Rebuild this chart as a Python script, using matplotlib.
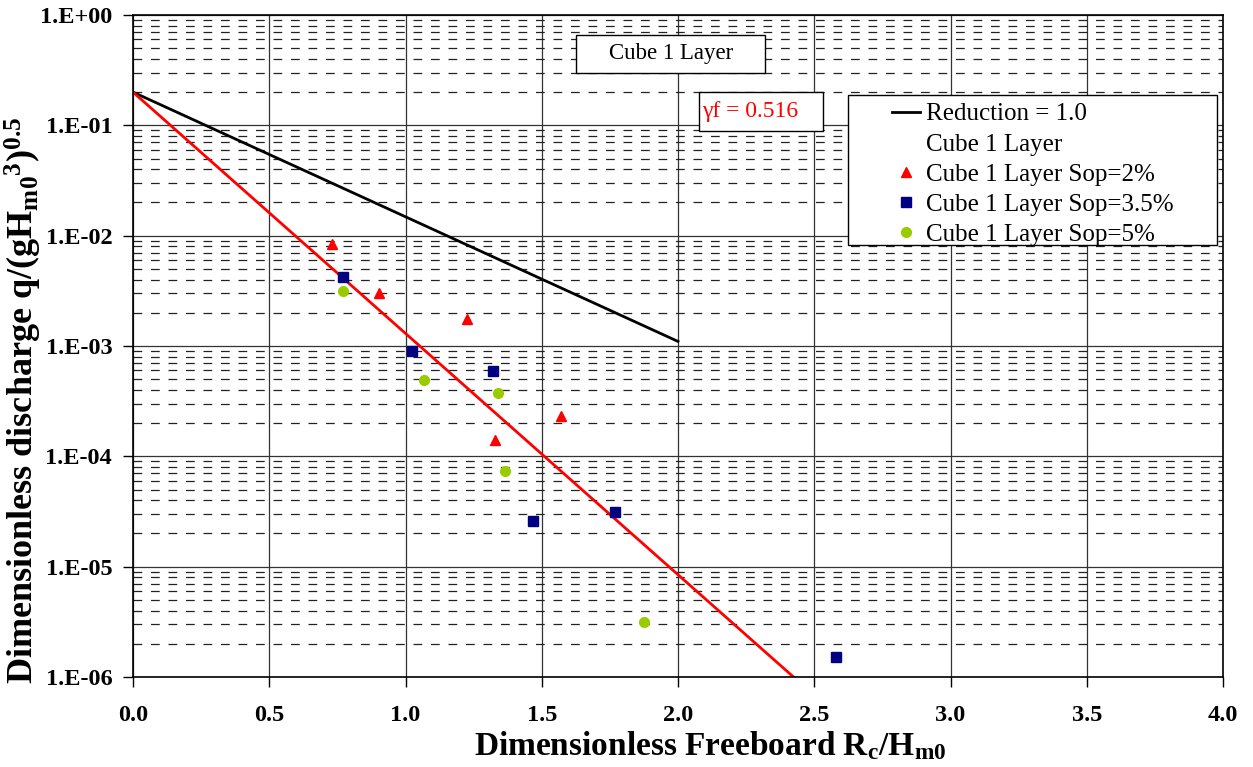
import numpy as np
import matplotlib

matplotlib.use("Agg")
import matplotlib.pyplot as plt
from matplotlib.patches import Rectangle
from matplotlib.ticker import FixedLocator, FuncFormatter, NullFormatter

plt.rcParams["font.family"] = ["Liberation Serif", "DejaVu Serif"]
plt.rcParams["mathtext.fontset"] = "custom"
plt.rcParams["mathtext.rm"] = "Liberation Serif:bold"
plt.rcParams["mathtext.bf"] = "Liberation Serif:bold"
plt.rcParams["mathtext.it"] = "Liberation Serif:bold"

# reference lines (straight on log axis, given by their end points)
reduction_x = [0.0, 2.0]
reduction_q = [0.2, 1.1e-3]
fit_x = [0.0, 2.424]
fit_q = [0.2, 1.0e-6]

# measured points
sop2_x = [0.731, 0.904, 1.227, 1.572, 1.330]
sop2_q = [8.4e-3, 3.02e-3, 1.76e-3, 2.32e-4, 1.41e-4]
sop35_x = [0.769, 1.024, 1.321, 1.467, 1.770, 2.579]
sop35_q = [4.19e-3, 9.06e-4, 5.97e-4, 2.59e-5, 3.15e-5, 1.52e-6]
sop5_x = [0.771, 1.068, 1.341, 1.366, 1.877]
sop5_q = [3.15e-3, 4.95e-4, 3.72e-4, 7.41e-5, 3.15e-6]

x_ticks = [0.0, 0.5, 1.0, 1.5, 2.0, 2.5, 3.0, 3.5, 4.0]
y_major = [1e-6, 1e-5, 1e-4, 1e-3, 1e-2, 1e-1, 1e0]

W, H = 1253, 767
X0, X1, Y0, Y1 = 133, 1223, 15, 677  # axes box in pixels


def ax_xy(px, py):
    """pixel position -> axes fraction"""
    return (px - X0) / (X1 - X0), 1 - (py - Y0) / (Y1 - Y0)


fig = plt.figure(figsize=(W / 100, H / 100), dpi=100)
ax = fig.add_axes([X0 / W, 1 - Y1 / H, (X1 - X0) / W, (Y1 - Y0) / H])
ax.set_yscale("log")
ax.set_xlim(0, 4.0)
ax.set_ylim(1e-6, 1e0)

y_minor = [m * 10.0 ** e for e in range(-6, 0) for m in range(2, 10)]
ax.yaxis.set_major_locator(FixedLocator(y_major))
ax.yaxis.set_minor_locator(FixedLocator(y_minor))
ax.yaxis.set_minor_formatter(NullFormatter())
ax.yaxis.set_major_formatter(FuncFormatter(
    lambda v, p: "1.E+00" if v >= 1 else f"1.E-{int(round(-np.log10(v))):02d}"))
ax.set_xticks(x_ticks)
ax.set_xticklabels([f"{v:.1f}" for v in x_ticks])

ax.grid(which="major", axis="both", color="#333333", lw=0.9)
ax.grid(which="minor", axis="y", color="#222222", lw=0.9, ls=(0, (7, 7)))
ax.set_axisbelow(True)
ax.tick_params(which="major", direction="out", length=7, width=1, labelsize=17.5)
ax.tick_params(axis="y", pad=8)
ax.tick_params(axis="x", pad=13)
ax.tick_params(which="minor", length=0)
for lab in ax.get_xticklabels() + ax.get_yticklabels():
    lab.set_fontweight("bold")
for s in ax.spines.values():
    s.set_linewidth(1.2)

l1, = ax.plot(reduction_x, reduction_q, color="black", lw=2, label="Reduction = 1.0")
ax.plot(fit_x, fit_q, color="#ff0000", lw=2)
l2, = ax.plot([], [], ls="none", label="Cube 1 Layer")
l3, = ax.plot(sop2_x, sop2_q, ls="none", marker="^", ms=7.5, color="#ff0000",
              label="Cube 1 Layer Sop=2%")
l4, = ax.plot(sop35_x, sop35_q, ls="none", marker="s", ms=6.5, color="#000080",
              label="Cube 1 Layer Sop=3.5%")
l5, = ax.plot(sop5_x, sop5_q, ls="none", marker="o", ms=7, color="#99cc00",
              label="Cube 1 Layer Sop=5%")

# white boxes drawn over the grid
for (bx0, by0, bx1, by1) in [(848, 95, 1217, 245), (576, 35, 765, 73), (699, 92, 823, 131)]:
    ax.add_patch(Rectangle(ax_xy(bx0, by1), (bx1 - bx0) / (X1 - X0), (by1 - by0) / (Y1 - Y0),
                           transform=ax.transAxes, fc="white", ec="black", lw=1.0, zorder=4))

leg = ax.legend(handles=[l1, l2, l3, l4, l5], loc="upper left",
                bbox_to_anchor=ax_xy(892, 103), frameon=False,
                fontsize=18, handlelength=1.1, handletextpad=0.25,
                labelspacing=0.3, borderpad=0, borderaxespad=0)
leg.set_zorder(5)

ax.text(*ax_xy(671, 54), "Cube 1 Layer", transform=ax.transAxes,
        ha="center", va="center", fontsize=16.5, zorder=6)
ax.text(*ax_xy(702, 112), "γf = 0.516", transform=ax.transAxes,
        ha="left", va="center", fontsize=17, color="#ff0000", zorder=6)

fig.text(710 / W, 1 - 746 / H, r"Dimensionless Freeboard R$_\mathrm{c}$/H$_\mathrm{m0}$",
         fontsize=24, fontweight="bold", ha="center", va="center")
fig.text(23 / W, 1 - 400 / H, r"Dimensionless discharge q/(gH$_\mathrm{m0}$$^{3}$)$^{0.5}$",
         fontsize=26, fontweight="bold", ha="center", va="center", rotation=90)

fig.savefig("out.png", dpi=100)
